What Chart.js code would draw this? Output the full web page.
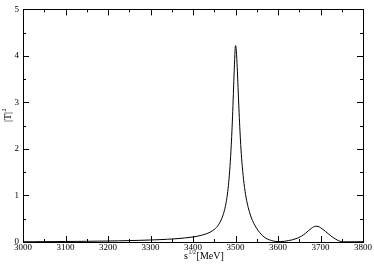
<!DOCTYPE html>
<html>
<head>
<meta charset="utf-8">
<script src="https://cdn.jsdelivr.net/npm/chart.js@4.4.1/dist/chart.umd.min.js"></script>
<style>
	html, body { margin: 0; padding: 0; background: #fff; }
	#wrap { width: 374px; height: 269px; }
</style>
</head>
<body>
<div id="wrap"><canvas id="chartT" width="374" height="269"></canvas></div>
<script>
const energies = [
	3000, 3025, 3050, 3075, 3100, 3125, 3150, 3175, 3200, 3225, 3250, 3275, 3300, 3320, 3340, 3360, 3380,
	3400, 3410, 3420, 3430, 3440, 3450, 3455, 3460, 3465, 3470, 3474, 3478, 3481, 3484, 3487, 3490, 3492,
	3494, 3496, 3498, 3499, 3500, 3501, 3502, 3504, 3506, 3508, 3510, 3513, 3516, 3520, 3525, 3530, 3535,
	3540, 3546, 3553, 3560, 3567, 3575, 3585, 3595, 3605, 3615, 3625, 3635, 3645, 3655, 3665, 3672, 3678,
	3684, 3689, 3694, 3700, 3706, 3712, 3718, 3724, 3730, 3736, 3742, 3748, 3755, 3765, 3780, 3800
];
const amplitude = [
	0.005, 0.006, 0.008, 0.009, 0.011, 0.013, 0.015, 0.018, 0.021, 0.025, 0.030, 0.036, 0.043, 0.050, 0.059, 0.070, 0.086,
	0.108, 0.124, 0.145, 0.172, 0.21, 0.27, 0.31, 0.37, 0.45, 0.56, 0.68, 0.85, 1.03, 1.28, 1.62, 2.08, 2.47,
	2.93, 3.45, 3.92, 4.12, 4.22, 4.20, 4.10, 3.76, 3.32, 2.88, 2.48, 1.98, 1.62, 1.26, 0.95, 0.74, 0.58,
	0.46, 0.35, 0.25, 0.17, 0.11, 0.065, 0.03, 0.012, 0.008, 0.015, 0.03, 0.05, 0.08, 0.125, 0.19, 0.245, 0.29,
	0.325, 0.34, 0.335, 0.31, 0.27, 0.225, 0.18, 0.135, 0.095, 0.06, 0.03, 0.01, 0.004, 0.004, 0.005, 0.006
];
const xTicks = [3000, 3100, 3200, 3300, 3400, 3500, 3600, 3700, 3800];
const xMinor = [3050, 3150, 3250, 3350, 3450, 3550, 3650, 3750];
const yTicks = [0, 1, 2, 3, 4, 5];
const yMinor = [0.5, 1.5, 2.5, 3.5, 4.5];

const serif = 'Liberation Serif';

// box + inward ticks on all four sides, axis titles
const frame = {
	id: 'frame',
	afterDraw: (chart) => {
		const {ctx, chartArea: a} = chart;
		const x = chart.scales.x, y = chart.scales.y;
		ctx.save();
		ctx.strokeStyle = '#000';
		ctx.lineWidth = 1;
		ctx.strokeRect(Math.round(a.left) + 0.5, Math.round(a.top) + 0.5, Math.round(a.right - a.left), Math.round(a.bottom - a.top));
		ctx.beginPath();
		const xt = (v, len) => {
			const p = Math.round(x.getPixelForValue(v)) + 0.5;
			ctx.moveTo(p, a.bottom); ctx.lineTo(p, a.bottom - len);
			ctx.moveTo(p, a.top); ctx.lineTo(p, a.top + len);
		};
		const yt = (v, len) => {
			const p = Math.round(y.getPixelForValue(v)) + 0.5;
			ctx.moveTo(a.left, p); ctx.lineTo(a.left + len, p);
			ctx.moveTo(a.right, p); ctx.lineTo(a.right - len, p);
		};
		xTicks.forEach(v => xt(v, 6));
		xMinor.forEach(v => xt(v, 3));
		yTicks.forEach(v => yt(v, 6));
		yMinor.forEach(v => yt(v, 3));
		ctx.stroke();

		ctx.fillStyle = '#000';
		ctx.textBaseline = 'alphabetic';
		// x title: s^{1/2}[MeV]
		let cx = 184, by = 259;
		ctx.font = '10px "' + serif + '"';
		ctx.fillText('s', cx, by);
		cx += ctx.measureText('s').width + 0.5;
		ctx.font = '6px "' + serif + '"';
		ctx.fillText('1/2', cx, by - 5);
		cx += ctx.measureText('1/2').width + 0.5;
		ctx.font = '10px "' + serif + '"';
		ctx.fillText('[MeV]', cx, by);

		// y title: |T|^2
		ctx.translate(11, 122);
		ctx.rotate(-Math.PI / 2);
		ctx.font = '10px "' + serif + '"';
		ctx.fillText('|T|', 0, 0);
		const w = ctx.measureText('|T|').width;
		ctx.font = '6px "' + serif + '"';
		ctx.fillText('2', w + 0.5, -5);
		ctx.restore();
	}
};

const chartT = document.getElementById('chartT').getContext('2d');

new Chart(chartT, {
	type: 'line',
	data: {
		datasets: [{
			data: energies.map((e, i) => ({x: e, y: amplitude[i]})),
			borderColor: '#000',
			borderWidth: 1,
			pointRadius: 0,
			fill: false,
			cubicInterpolationMode: 'monotone'
		}]
	},
	options: {
		responsive: false,
		animation: false,
		layout: {
			padding: {top: 5, right: 11, left: 0, bottom: 0}
		},
		plugins: {
			legend: {display: false},
			tooltip: {enabled: false}
		},
		scales: {
			x: {
				type: 'linear',
				min: 3000,
				max: 3800,
				afterBuildTicks: (s) => { s.ticks = xTicks.map(v => ({value: v})); },
				afterFit: (s) => { s.height = 27; },
				ticks: {
					color: '#000',
					padding: 0,
					maxRotation: 0,
					autoSkip: false,
					font: {family: serif, size: 9},
					callback: (v) => String(v)
				},
				grid: {display: false, drawTicks: false},
				border: {display: false}
			},
			y: {
				min: 0,
				max: 5,
				afterBuildTicks: (s) => { s.ticks = yTicks.map(v => ({value: v})); },
				afterFit: (s) => { s.width = 23; },
				ticks: {
					color: '#000',
					padding: 4,
					font: {family: serif, size: 9},
					callback: (v) => String(v)
				},
				grid: {display: false, drawTicks: false},
				border: {display: false}
			}
		}
	},
	plugins: [frame]
});
</script>
</body>
</html>
